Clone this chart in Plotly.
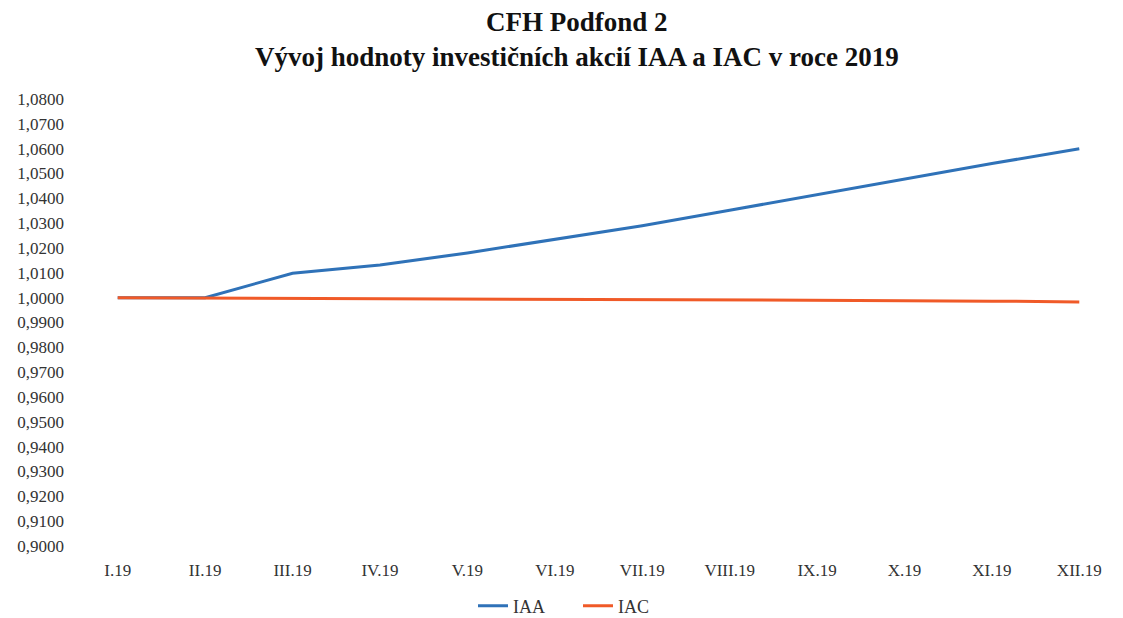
import plotly.graph_objects as go

months = ["I.19", "II.19", "III.19", "IV.19", "V.19", "VI.19", "VII.19",
          "VIII.19", "IX.19", "X.19", "XI.19", "XII.19"]
iaa = [1.0000, 1.0000, 1.0098, 1.0132, 1.0180, 1.0235, 1.0290, 1.0352,
       1.0415, 1.0475, 1.0540, 1.0600]
iac = [1.0000, 0.9999, 0.9998, 0.9997, 0.9995, 0.9994, 0.9993, 0.9991,
       0.9990, 0.9988, 0.9986, 0.9983]
y_ticks = [0.90 + 0.01 * i for i in range(19)]
title_lines = ["CFH Podfond 2", "Vývoj hodnoty investičních akcií IAA a IAC v roce 2019"]

serif = "Liberation Serif, Times New Roman, serif"

fig = go.Figure()
fig.add_trace(go.Scatter(x=months, y=iaa, mode="lines", name="IAA",
                         line=dict(color="#2f72b8", width=3)))
fig.add_trace(go.Scatter(x=months, y=iac, mode="lines", name="IAC",
                         line=dict(color="#f05a28", width=3)))

for i, t in enumerate(title_lines):
    fig.add_annotation(text="<b>" + t + "</b>", xref="paper", yref="paper",
                       x=(577 - 74) / 1049, xanchor="center",
                       y=(618 - 72 - (22 + 35 * i)) / 447, yanchor="middle",
                       showarrow=False,
                       font=dict(family=serif, size=27, color="#111111"))

fig.update_layout(
    width=1123, height=618,
    margin=dict(l=74, r=0, t=99, b=72, autoexpand=False),
    paper_bgcolor="white", plot_bgcolor="white",
    separators=", ",
    font=dict(family=serif, color="#333333", size=17),
    showlegend=True,
    legend=dict(orientation="h", x=(578) / 1123, xanchor="center", xref="container",
                y=(618 - 606) / 618, yanchor="middle", yref="container",
                entrywidth=60,
                font=dict(family=serif, size=18, color="#333333")),
    xaxis=dict(type="category", range=[-0.5, 11.5], showgrid=False,
               showline=False, zeroline=False, ticks="",
               tickfont=dict(family=serif, size=17, color="#333333"),
               ticklabelstandoff=12),
    yaxis=dict(range=[0.9, 1.08], tickvals=y_ticks, tickformat=".4f",
               showgrid=False, showline=False, zeroline=False, ticks="",
               tickfont=dict(family=serif, size=17, color="#333333"),
               ticklabelstandoff=9),
)

fig.write_html("out.html", config={"displayModeBar": False},
               post_script="document.body.style.margin='0';document.body.style.padding='0';")
